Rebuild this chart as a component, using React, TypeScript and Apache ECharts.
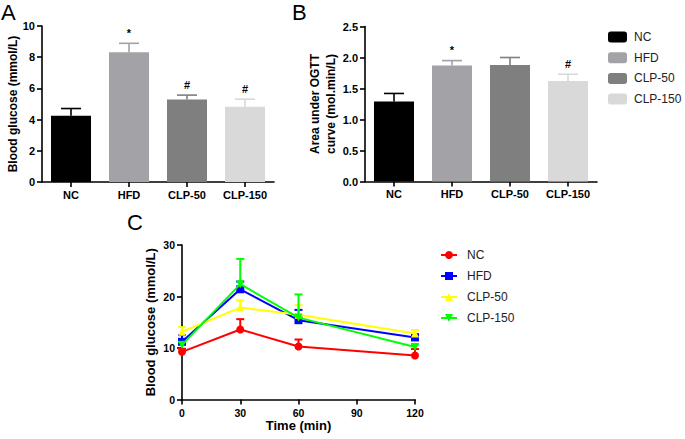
import React, { useEffect, useRef } from "react";
import * as echarts from "echarts";

const groups = ["NC", "HFD", "CLP-50", "CLP-150"];
const barColors = ["#000000", "#a2a2a7", "#7f7f7f", "#d9d9d9"];

const glucoseMean = [4.25, 8.31, 5.29, 4.82];
const glucoseSd = [0.46, 0.58, 0.28, 0.49];
const glucoseMarks = ["", "*", "#", "#"];

const aucMean = [1.29, 1.87, 1.88, 1.62];
const aucSd = [0.13, 0.08, 0.12, 0.11];
const aucMarks = ["", "*", "", "#"];

const times = [0, 30, 60, 120];
const ogttMean = [
  [9.25, 13.6, 10.3, 8.55],
  [11.2, 21.4, 15.4, 12.05],
  [13.15, 17.85, 16.45, 12.8],
  [10.6, 22.4, 15.9, 10.2],
];
const ogttSd = [
  [0.6, 2.0, 1.35, 1.25],
  [1.3, 1.5, 2.0, 0.6],
  [0.9, 1.4, 1.85, 0.7],
  [0.6, 4.9, 4.5, 0.5],
];
const lineColors = ["#ff0000", "#0000ff", "#ffff00", "#00ff00"];
const lineSymbols = ["circle", "rect", "triangle", "triangle"];
const symbolRotations = [0, 0, 0, 180];

const FONT = "'Liberation Sans', Arial, sans-serif";

function axisCommon() {
  return {
    axisLine: { show: true, lineStyle: { color: "#000", width: 1.6 } },
    axisTick: { show: true, length: 5, lineStyle: { color: "#000", width: 1.6 } },
    splitLine: { show: false },
    axisLabel: { color: "#000", fontWeight: "bold", fontSize: 11, fontFamily: FONT, margin: 7 },
  };
}

function barErrorSeries(
  xAxisIndex: number,
  means: number[],
  sds: number[],
  marks: string[]
) {
  return {
    type: "custom",
    xAxisIndex,
    yAxisIndex: xAxisIndex,
    z: 1,
    data: means.map((m, i) => [i, m, m + sds[i]]),
    encode: { x: 0, y: [1, 2] },
    renderItem: (params: any, api: any) => {
      const i = api.value(0);
      const p0 = api.coord([i, api.value(1)]);
      const p1 = api.coord([i, api.value(2)]);
      const color = barColors[params.dataIndex];
      const half = 10;
      const children: any[] = [
        { type: "line", shape: { x1: p0[0], y1: p0[1], x2: p1[0], y2: p1[1] }, style: { stroke: color, lineWidth: 1.6 } },
        { type: "line", shape: { x1: p1[0] - half, y1: p1[1], x2: p1[0] + half, y2: p1[1] }, style: { stroke: color, lineWidth: 1.6 } },
      ];
      const mark = marks[params.dataIndex];
      if (mark) {
        children.push({
          type: "text",
          x: p1[0],
          y: p1[1] - 5,
          style: {
            text: mark,
            fill: "#000",
            fontSize: 11,
            fontFamily: FONT,
            fontWeight: "bold",
            align: "center",
            verticalAlign: "bottom",
          },
        });
      }
      return { type: "group", children };
    },
  };
}

export default function App() {
  const ref = useRef<HTMLDivElement>(null);
  useEffect(() => {
    if (!ref.current) return;
    const chart = echarts.init(ref.current, null, { renderer: "svg" });

    const series: any[] = [];
    series.push({
      type: "bar",
      xAxisIndex: 0,
      yAxisIndex: 0,
      barCategoryGap: "31%",
      z: 2,
      data: glucoseMean.map((v, i) => ({ value: v, itemStyle: { color: barColors[i] } })),
    });
    series.push(barErrorSeries(0, glucoseMean, glucoseSd, glucoseMarks));
    groups.forEach((g, gi) => {
      series.push({
        type: "bar",
        name: "B:" + g,
        xAxisIndex: 1,
        yAxisIndex: 1,
        stack: "b",
        barCategoryGap: "31%",
        z: 2,
        itemStyle: { color: barColors[gi] },
        data: aucMean.map((v, i) => (i === gi ? v : "-")),
      });
    });
    series.push(barErrorSeries(1, aucMean, aucSd, aucMarks));
    groups.forEach((g, gi) => {
      series.push({
        type: "line",
        name: g,
        xAxisIndex: 2,
        yAxisIndex: 2,
        symbol: lineSymbols[gi],
        symbolSize: 8,
        symbolRotate: symbolRotations[gi],
        showAllSymbol: true,
        z: 3 + gi,
        lineStyle: { color: lineColors[gi], width: 2 },
        itemStyle: { color: lineColors[gi] },
        data: times.map((t, i) => [t, ogttMean[gi][i]]),
      });
      series.push({
        type: "custom",
        xAxisIndex: 2,
        yAxisIndex: 2,
        z: 3 + gi,
        data: times.map((t, i) => [t, ogttMean[gi][i], ogttMean[gi][i] + ogttSd[gi][i]]),
        encode: { x: 0, y: [1, 2] },
        renderItem: (params: any, api: any) => {
          const p0 = api.coord([api.value(0), api.value(1)]);
          const p1 = api.coord([api.value(0), api.value(2)]);
          const c = lineColors[gi];
          return {
            type: "group",
            children: [
              { type: "line", shape: { x1: p0[0], y1: p0[1], x2: p1[0], y2: p1[1] }, style: { stroke: c, lineWidth: 2 } },
              { type: "line", shape: { x1: p1[0] - 4, y1: p1[1], x2: p1[0] + 4, y2: p1[1] }, style: { stroke: c, lineWidth: 2 } },
            ],
          };
        },
      });
    });

    const nameStyle = (size: number) => ({
      color: "#000",
      fontWeight: "bold",
      fontSize: size,
      fontFamily: FONT,
    });

    chart.setOption({
      animation: false,
      backgroundColor: "#fff",
      textStyle: { fontFamily: FONT },
      grid: [
        { left: 42, top: 26, width: 232, height: 156 },
        { left: 365, top: 26.5, width: 232, height: 155 },
        { left: 182, top: 245, width: 233, height: 154.5 },
      ],
      xAxis: [
        {
          type: "category",
          gridIndex: 0,
          data: groups,
          ...axisCommon(),
          axisTick: { ...axisCommon().axisTick, alignWithLabel: true },
        },
        {
          type: "category",
          gridIndex: 1,
          data: groups,
          ...axisCommon(),
          axisTick: { ...axisCommon().axisTick, alignWithLabel: true },
        },
        {
          type: "value",
          gridIndex: 2,
          min: 0,
          max: 120,
          interval: 30,
          ...axisCommon(),
          axisLabel: { ...axisCommon().axisLabel, fontSize: 10.5, margin: 8 },
          name: "Time (min)",
          nameLocation: "middle",
          nameGap: 19,
          nameTextStyle: nameStyle(13),
        },
      ],
      yAxis: [
        {
          type: "value",
          gridIndex: 0,
          min: 0,
          max: 10,
          interval: 2,
          ...axisCommon(),
          name: "Blood glucose (mmol/L)",
          nameLocation: "middle",
          nameGap: 23,
          nameTextStyle: nameStyle(12),
        },
        {
          type: "value",
          gridIndex: 1,
          min: 0,
          max: 2.5,
          interval: 0.5,
          ...axisCommon(),
          axisLabel: { ...axisCommon().axisLabel, formatter: (v: number) => v.toFixed(1) },
          name: "Area under OGTT\ncurve (mol.min/L)",
          nameLocation: "middle",
          nameGap: 25,
          nameTextStyle: { ...nameStyle(12), lineHeight: 16 },
        },
        {
          type: "value",
          gridIndex: 2,
          min: 0,
          max: 30,
          interval: 10,
          ...axisCommon(),
          axisLabel: { ...axisCommon().axisLabel, fontSize: 10.5 },
          name: "Blood glucose (mmol/L)",
          nameLocation: "middle",
          nameGap: 25,
          nameTextStyle: nameStyle(13),
        },
      ],
      legend: [
        {
          left: 608,
          top: 31,
          padding: 0,
          orient: "vertical",
          itemWidth: 19,
          itemHeight: 11,
          itemGap: 8.7,
          icon: "roundRect",
          data: groups.map((g) => "B:" + g),
          formatter: (n: string) => n.replace("B:", ""),
          textStyle: { color: "#222", fontSize: 12, fontFamily: FONT, padding: [0, 0, 0, 2] },
        },
        {
          left: 440,
          top: 249,
          padding: 0,
          orient: "vertical",
          itemWidth: 16,
          itemHeight: 10,
          itemGap: 9,
          data: groups,
          textStyle: { color: "#222", fontSize: 12, fontFamily: FONT, padding: [0, 0, 0, 5] },
        },
      ],
      graphic: [
        { type: "text", left: 1, top: 1, style: { text: "A", fontSize: 22, fontFamily: FONT, fill: "#000" } },
        { type: "text", left: 292, top: 1, style: { text: "B", fontSize: 22, fontFamily: FONT, fill: "#000" } },
        { type: "text", left: 127, top: 211, style: { text: "C", fontSize: 22, fontFamily: FONT, fill: "#000" } },
      ],
      series,
    });
    return () => chart.dispose();
  }, []);
  return <div ref={ref} style={{ width: 685, height: 439, position: "absolute", left: 0, top: 0 }} />;
}
